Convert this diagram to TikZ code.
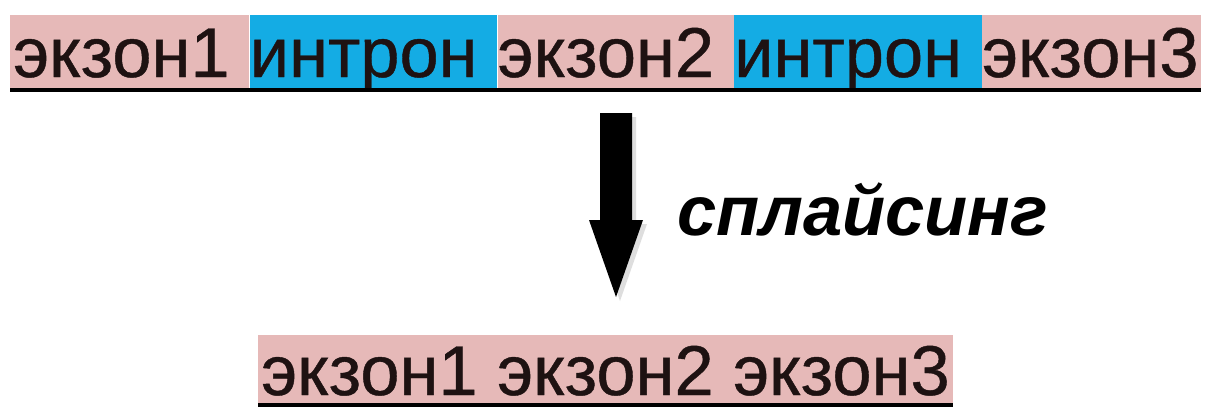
\documentclass[tikz,border=0pt]{standalone}
\usepackage{fontspec}
\setmainfont{Liberation Sans}
\newfontfamily\heavyfont[FakeBold=0.6]{Liberation Sans}
\definecolor{exonpink}{RGB}{230,185,184}
\definecolor{intronblue}{RGB}{20,172,228}
\definecolor{txtdark}{RGB}{30,18,18}
\begin{document}
\begin{tikzpicture}[x=1pt,y=-1pt,
  seg/.style={inner sep=0pt, anchor=base west, text=txtdark,
    font=\heavyfont\fontsize{70.5pt}{80pt}\selectfont},
  topseg/.style={seg, text height=62pt, text depth=13pt},
  botseg/.style={seg, text height=60pt, text depth=10pt},
  exon/.style={fill=exonpink},
  intron/.style={fill=intronblue},
  uline/.style={line width=3.5pt, black},
  blockarrow/.style={fill=black},
  lbl/.style={inner sep=0pt, anchor=base west, text=black,
    font=\fontsize{70.5pt}{80pt}\selectfont\bfseries\itshape}]
\useasboundingbox (0,0) rectangle (1209,408);
\fill[white] (0,0) rectangle (1209,408);
% top row
\node[topseg,exon] (e1) at (10,77) {\kern3pt экзон1\kern.278em};
\node[topseg,intron] (i1) at (e1.base east) {интрон\kern.278em};
\node[topseg,exon] (e2) at (i1.base east) {экзон2\kern.278em};
\node[topseg,intron] (i2) at (e2.base east) {интрон\kern.278em};
\node[topseg,exon] (e3) at (i2.base east) {экзон3\kern2pt};
\draw[uline] (e1.south west) -- (e3.south east);
% arrow
\coordinate (ar) at (616,113);
\fill[black!25, opacity=0.5] ([xshift=4pt,yshift=-4pt]ar) ++(-16,0) -- ++(32,0) -- ++(0,107) -- ++(11,0) -- ++(-27,77) -- ++(-27,-77) -- ++(11,0) -- cycle;
\fill[blockarrow] (ar) ++(-16,0) -- ++(32,0) -- ++(0,107) -- ++(11,0) -- ++(-27,77) -- ++(-27,-77) -- ++(11,0) -- cycle;
\node[lbl] (spl) at (677,235) {сплайсинг};
% bottom row
\node[botseg,exon] (b) at (258,395) {\kern3pt экзон1 экзон2 экзон3\kern3pt};
\draw[uline] (b.south west) -- (b.south east);
\end{tikzpicture}
\end{document}
